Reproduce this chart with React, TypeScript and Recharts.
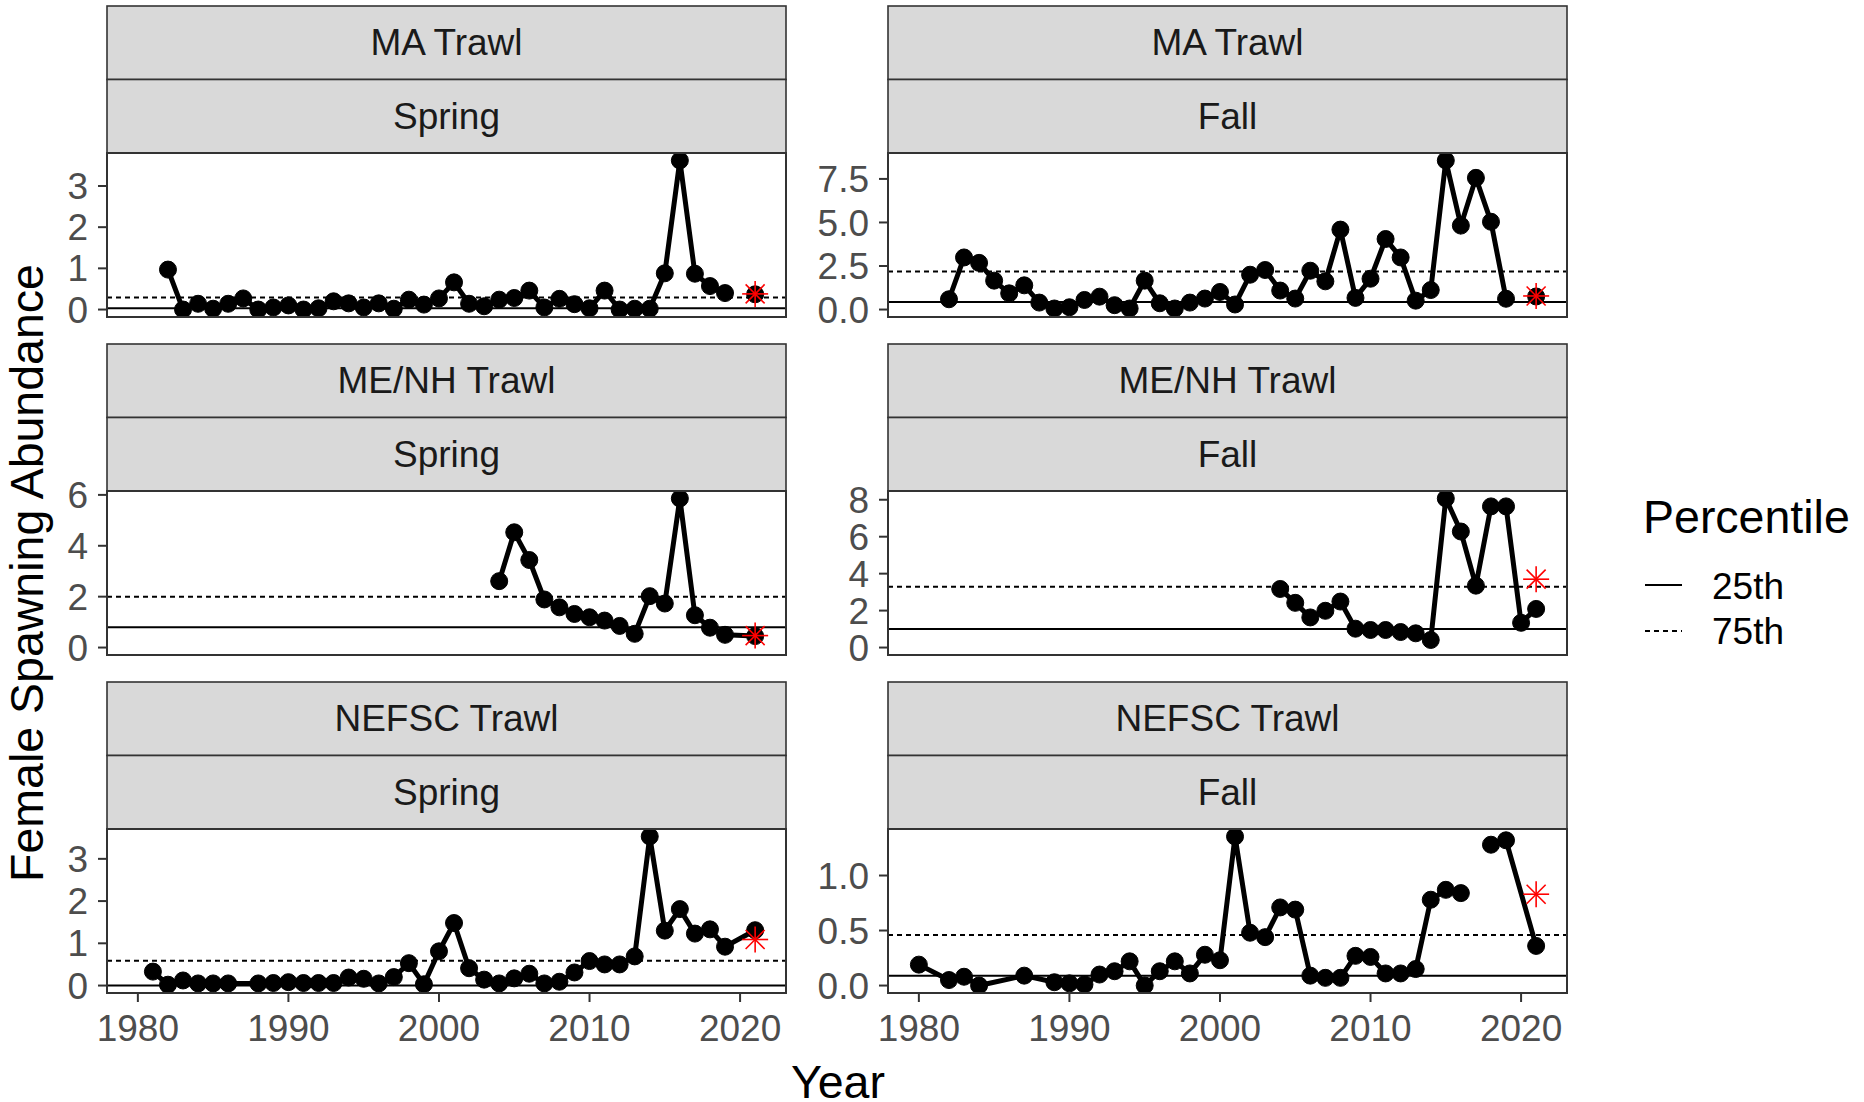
import React from "react";
import {
  ComposedChart,
  Line,
  Scatter,
  XAxis,
  YAxis,
  ReferenceLine,
} from "recharts";

const FONT = "'Liberation Sans', Arial, Helvetica, sans-serif";

// shared x axis
const yearTicks = [1980, 1990, 2000, 2010, 2020];
const yearDomain = [1977.95, 2023.05];

// MA Trawl - Spring
const maSpringYears = [
  1982, 1983, 1984, 1985, 1986, 1987, 1988, 1989, 1990, 1991, 1992, 1993, 1994,
  1995, 1996, 1997, 1998, 1999, 2000, 2001, 2002, 2003, 2004, 2005, 2006, 2007,
  2008, 2009, 2010, 2011, 2012, 2013, 2014, 2015, 2016, 2017, 2018, 2019, 2020,
  2021,
];
const maSpringValues = [
  0.97, 0.0, 0.14, 0.02, 0.14, 0.27, 0.0, 0.05, 0.1, 0.0, 0.03, 0.2, 0.15, 0.05,
  0.15, 0.02, 0.24, 0.12, 0.27, 0.66, 0.14, 0.08, 0.24, 0.28, 0.46, 0.05, 0.26,
  0.13, 0.03, 0.46, 0.0, 0.02, 0.02, 0.88, 3.62, 0.87, 0.57, 0.4, null, 0.37,
];

// MA Trawl - Fall
const maFallYears = maSpringYears;
const maFallValues = [
  0.59, 2.99, 2.68, 1.66, 0.93, 1.39, 0.4, 0.06, 0.13, 0.55, 0.74, 0.25, 0.06,
  1.66, 0.36, 0.06, 0.4, 0.63, 1.01, 0.29, 2.0, 2.27, 1.09, 0.63, 2.23, 1.62,
  4.59, 0.67, 1.77, 4.05, 2.99, 0.51, 1.12, 8.56, 4.82, 7.56, 5.04, 0.62, null,
  0.75,
];

// ME/NH Trawl - Spring
const menhSpringYears = [
  2004, 2005, 2006, 2007, 2008, 2009, 2010, 2011, 2012, 2013, 2014, 2015, 2016,
  2017, 2018, 2019, 2021,
];
const menhSpringValues = [
  2.61, 4.53, 3.44, 1.89, 1.58, 1.32, 1.19, 1.06, 0.85, 0.54, 2.02, 1.73, 5.86,
  1.27, 0.78, 0.5, 0.45,
];

// ME/NH Trawl - Fall
const menhFallYears = [
  2004, 2005, 2006, 2007, 2008, 2009, 2010, 2011, 2012, 2013, 2014, 2015, 2016,
  2017, 2018, 2019, 2020, 2021,
];
const menhFallValues = [
  3.17, 2.42, 1.63, 1.99, 2.49, 1.02, 0.95, 0.95, 0.84, 0.77, 0.41, 8.07, 6.28,
  3.35, 7.64, 7.64, 1.34, 2.09,
];

// NEFSC Trawl - Spring
const nefscSpringYears = [
  1981, 1982, 1983, 1984, 1985, 1986, 1988, 1989, 1990, 1991, 1992, 1993, 1994,
  1995, 1996, 1997, 1998, 1999, 2000, 2001, 2002, 2003, 2004, 2005, 2006, 2007,
  2008, 2009, 2010, 2011, 2012, 2013, 2014, 2015, 2016, 2017, 2018, 2019, 2021,
];
const nefscSpringValues = [
  0.33, 0.02, 0.12, 0.05, 0.05, 0.05, 0.05, 0.06, 0.08, 0.06, 0.06, 0.06, 0.19,
  0.16, 0.05, 0.2, 0.53, 0.03, 0.81, 1.48, 0.41, 0.14, 0.05, 0.17, 0.28, 0.05,
  0.09, 0.31, 0.58, 0.5, 0.5, 0.69, 3.53, 1.3, 1.81, 1.23, 1.33, 0.92, 1.31,
];

// NEFSC Trawl - Fall
const nefscFallYears = [
  1980, 1982, 1983, 1984, 1987, 1989, 1990, 1991, 1992, 1993, 1994, 1995, 1996,
  1997, 1998, 1999, 2000, 2001, 2002, 2003, 2004, 2005, 2006, 2007, 2008, 2009,
  2010, 2011, 2012, 2013, 2014, 2015, 2016, 2017, 2018, 2019, 2021,
];
const nefscFallValues = [
  0.19, 0.05, 0.08, 0.0, 0.09, 0.03, 0.02, 0.01, 0.1, 0.13, 0.22, 0.0, 0.13,
  0.22, 0.11, 0.28, 0.23, 1.355, 0.48, 0.44, 0.71, 0.69, 0.09, 0.07, 0.07, 0.27,
  0.26, 0.11, 0.11, 0.15, 0.78, 0.87, 0.84, null, 1.28, 1.32, 0.36,
];

// 2021 flagged value (red asterisk) and percentile lines per panel
const starValues = [0.38, 0.78, 0.47, 3.7, 1.09, 0.83];
const p25Values = [0.03, 0.44, 0.8, 1.0, 0.0, 0.09];
const p75Values = [0.29, 2.19, 2.0, 3.29, 0.59, 0.46];
const surveys = ["MA Trawl", "MA Trawl", "ME/NH Trawl", "ME/NH Trawl", "NEFSC Trawl", "NEFSC Trawl"];
const seasons = ["Spring", "Fall", "Spring", "Fall", "Spring", "Fall"];
const yTicks = [
  [0, 1, 2, 3],
  [0, 2.5, 5, 7.5],
  [0, 2, 4, 6],
  [0, 2, 4, 6, 8],
  [0, 1, 2, 3],
  [0, 0.5, 1],
];

const panelYears = [maSpringYears, maFallYears, menhSpringYears, menhFallYears, nefscSpringYears, nefscFallYears];
const panelValues = [maSpringValues, maFallValues, menhSpringValues, menhFallValues, nefscSpringValues, nefscFallValues];

// layout (px)
const COL_LEFT = [107, 888];
const PW = 679;
const PH = 164;
const PLOT_TOP = [153, 491, 829];
const STRIP_H = 73.5;
const AXW = 100;
const XAH = 70;
const PADV = 24; // room above/below the plot so edge tick labels are not clipped

function Star(props: any) {
  const { cx, cy } = props;
  if (cx == null || cy == null) return null;
  const r = 13;
  const d = 9.5;
  return (
    <g stroke="#FF0000" strokeWidth={1.6}>
      <line x1={cx - r} y1={cy} x2={cx + r} y2={cy} />
      <line x1={cx} y1={cy - r} x2={cx} y2={cy + r} />
      <line x1={cx - d} y1={cy - d} x2={cx + d} y2={cy + d} />
      <line x1={cx - d} y1={cy + d} x2={cx + d} y2={cy - d} />
    </g>
  );
}

function Panel({ idx }: { idx: number }) {
  const col = idx % 2;
  const row = Math.floor(idx / 2);
  const bottomAxis = row === 2;
  const years = panelYears[idx];
  const values = panelValues[idx];
  const data = years.map((year, i) => ({ year, value: values[i] }));
  const all = [0, ...(values.filter((v) => v != null) as number[]), starValues[idx], p25Values[idx], p75Values[idx]];
  const lo = Math.min(...all);
  const hi = Math.max(...all);
  const pad = (hi - lo) * 0.05;
  const ticks = yTicks[idx];
  const decimal = ticks.some((t) => !Number.isInteger(t));
  const w = AXW + PW;
  const h = PADV + PH + (bottomAxis ? XAH : PADV);

  return (
    <div style={{ position: "absolute", left: COL_LEFT[col] - AXW, top: PLOT_TOP[row] - PADV, width: w, height: h }}>
      <ComposedChart
        width={w}
        height={h}
        data={data}
        margin={{ top: PADV, right: 0, bottom: bottomAxis ? 0 : PADV, left: 0 }}
      >
        <XAxis
          dataKey="year"
          type="number"
          domain={yearDomain}
          ticks={yearTicks}
          allowDataOverflow
          hide={!bottomAxis}
          height={XAH}
          interval={0}
          axisLine={false}
          tickSize={9}
          tickMargin={13}
          tickLine={{ stroke: "#333", strokeWidth: 2 }}
          tick={{ fontSize: 37, fill: "#4D4D4D", fontFamily: FONT }}
        />
        <YAxis
          type="number"
          domain={[lo - pad, hi + pad]}
          ticks={ticks}
          allowDataOverflow
          width={AXW}
          interval={0}
          axisLine={false}
          tickSize={9}
          tickMargin={10}
          tickLine={{ stroke: "#333", strokeWidth: 2 }}
          tick={{ fontSize: 37, fill: "#4D4D4D", fontFamily: FONT }}
          tickFormatter={(v: number) => (decimal ? v.toFixed(1) : String(v))}
        />
        <ReferenceLine y={p25Values[idx]} stroke="#000" strokeWidth={2} />
        <ReferenceLine y={p75Values[idx]} stroke="#000" strokeWidth={2} strokeDasharray="5 4" />
        <Line
          dataKey="value"
          stroke="#000"
          strokeWidth={5}
          connectNulls={false}
          dot={{ r: 8.5, fill: "#000", stroke: "#000", strokeWidth: 1 }}
          activeDot={false}
          isAnimationActive={false}
        />
        <Scatter
          data={[{ year: 2021, value: starValues[idx] }]}
          dataKey="value"
          shape={Star}
          isAnimationActive={false}
        />
      </ComposedChart>
    </div>
  );
}

function Overlay() {
  const items: React.ReactNode[] = [];
  for (let idx = 0; idx < 6; idx++) {
    const col = idx % 2;
    const row = Math.floor(idx / 2);
    const x = COL_LEFT[col];
    const top = PLOT_TOP[row];
    const s1 = top - 2 * STRIP_H;
    const s2 = top - STRIP_H;
    items.push(
      <g key={idx}>
        <rect x={x} y={s1} width={PW} height={STRIP_H} fill="#D9D9D9" stroke="#333" strokeWidth={1.6} />
        <rect x={x} y={s2} width={PW} height={STRIP_H} fill="#D9D9D9" stroke="#333" strokeWidth={1.6} />
        <text x={x + PW / 2} y={s1 + STRIP_H / 2} textAnchor="middle" dominantBaseline="central" fontSize={37} fill="#1A1A1A">
          {surveys[idx]}
        </text>
        <text x={x + PW / 2} y={s2 + STRIP_H / 2} textAnchor="middle" dominantBaseline="central" fontSize={37} fill="#1A1A1A">
          {seasons[idx]}
        </text>
        <rect x={x} y={top} width={PW} height={PH} fill="none" stroke="#333" strokeWidth={2} />
      </g>
    );
  }
  return (
    <svg
      width={1864}
      height={1102}
      style={{ position: "absolute", left: 0, top: 0, pointerEvents: "none" }}
      fontFamily={FONT}
    >
      {items}
      <text x={838} y={1082} textAnchor="middle" dominantBaseline="central" fontSize={46.5} fill="#000">
        Year
      </text>
      <text
        transform="translate(27,573) rotate(-90)"
        textAnchor="middle"
        dominantBaseline="central"
        fontSize={46.5}
        fill="#000"
      >
        Female Spawning Abundance
      </text>
      <text x={1643} y={517} dominantBaseline="central" fontSize={46.5} fill="#000">
        Percentile
      </text>
      <line x1={1645} x2={1682} y1={585} y2={585} stroke="#000" strokeWidth={2} />
      <line x1={1645} x2={1682} y1={631} y2={631} stroke="#000" strokeWidth={2} strokeDasharray="5 4" />
      <text x={1712} y={586} dominantBaseline="central" fontSize={37} fill="#000">
        25th
      </text>
      <text x={1712} y={631} dominantBaseline="central" fontSize={37} fill="#000">
        75th
      </text>
    </svg>
  );
}

export default function App() {
  return (
    <div
      style={{
        position: "absolute",
        left: 0,
        top: 0,
        width: 1864,
        height: 1102,
        background: "#fff",
        fontFamily: FONT,
        overflow: "hidden",
      }}
    >
      {[0, 1, 2, 3, 4, 5].map((i) => (
        <Panel key={i} idx={i} />
      ))}
      <Overlay />
    </div>
  );
}
